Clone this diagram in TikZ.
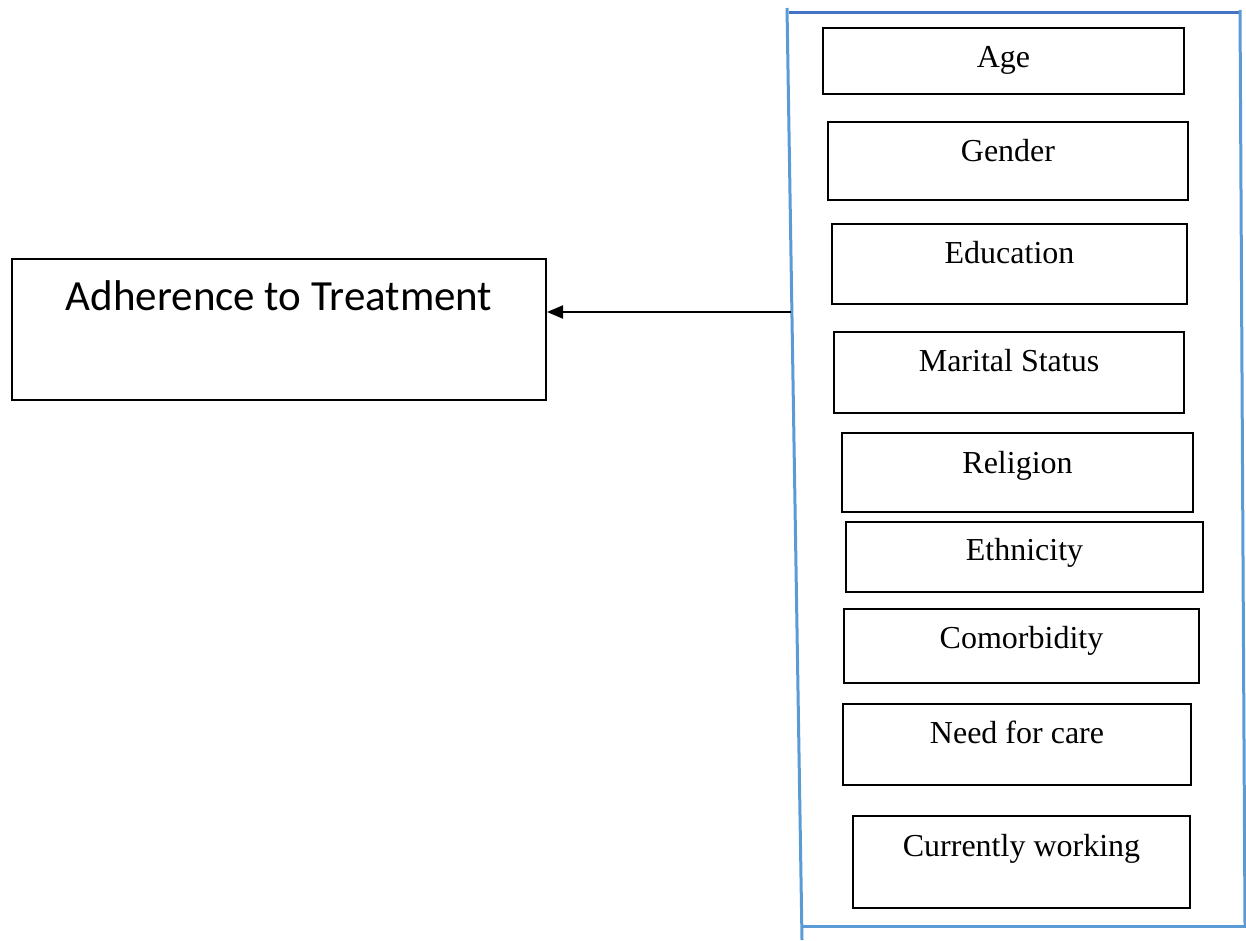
\documentclass[tikz,border=0pt]{standalone}
\usepackage{fontspec}
\setmainfont{Liberation Serif}
\newfontfamily\calib{Carlito}
\usetikzlibrary{arrows.meta}
\definecolor{bluelight}{HTML}{5B9BD5}
\definecolor{bluedark}{HTML}{4472C4}
\tikzset{
 fbox/.style={draw=black, line width=2pt, rectangle, inner sep=0pt, anchor=north west},
 flbl/.style={font=\fontsize{32}{36}\selectfont, anchor=base, inner sep=0pt},
 frameline/.style={draw=bluelight, line width=3pt},
 frametop/.style={draw=bluedark, line width=3pt},
 arr/.style={line width=2pt, -{Triangle[length=16pt,width=13pt]}}
}
\begin{document}
\begin{tikzpicture}[x=1pt,y=-1pt]
\useasboundingbox (0,0) rectangle (1246,940);
% container
\draw[frameline] (787,8) -- (802,940);
\draw[frametop] (789,12.5) -- (1241,12.5);
\draw[frameline] (1240,10) -- (1245,926);
\draw[frameline] (802,926) -- (1246,926);
% outcome
\node[fbox, minimum width=534pt, minimum height=141pt] (adh) at (11,258) {};
\node[font=\calib\fontsize{43}{48}\selectfont, anchor=base, inner sep=0pt] (adhT) at ([yshift=-52pt]adh.north) {Adherence to Treatment};
% factors
\node[fbox, minimum width=361pt, minimum height=66pt] (age) at (822,27) {};
\node[flbl] (ageT) at ([yshift=-40pt]age.north) {Age};
\node[fbox, minimum width=360pt, minimum height=78pt] (gen) at (827,121) {};
\node[flbl] (genT) at ([yshift=-40pt]gen.north) {Gender};
\node[fbox, minimum width=355pt, minimum height=80pt] (edu) at (831,223) {};
\node[flbl] (eduT) at ([yshift=-40pt]edu.north) {Education};
\node[fbox, minimum width=350pt, minimum height=81pt] (mar) at (833,331) {};
\node[flbl] (marT) at ([yshift=-40pt]mar.north) {Marital Status};
\node[fbox, minimum width=351pt, minimum height=79pt] (rel) at (841,432) {};
\node[flbl] (relT) at ([yshift=-41pt]rel.north) {Religion};
\node[fbox, minimum width=357pt, minimum height=70pt] (eth) at (845,521) {};
\node[flbl] (ethT) at ([yshift=-39pt]eth.north) {Ethnicity};
\node[fbox, minimum width=355pt, minimum height=74pt] (com) at (843,608) {};
\node[flbl] (comT) at ([yshift=-40pt]com.north) {Comorbidity};
\node[fbox, minimum width=348pt, minimum height=81pt] (need) at (842,703) {};
\node[flbl] (needT) at ([yshift=-40pt]need.north) {Need for care};
\node[fbox, minimum width=337pt, minimum height=92pt] (work) at (852,815) {};
\node[flbl] (workT) at ([yshift=-41pt]work.north) {Currently working};
% arrow
\coordinate (src) at (791,312);
\draw[arr] (src) -- (src -| adh.east);
\end{tikzpicture}
\end{document}
